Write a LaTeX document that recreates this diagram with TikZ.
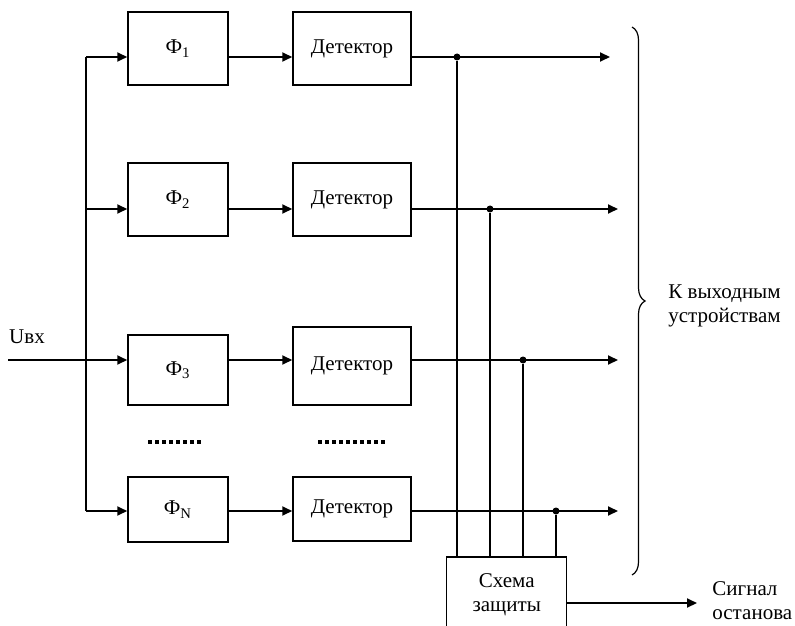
\documentclass[tikz,border=0pt]{standalone}
\usepackage{fontspec}
\setmainfont{Liberation Serif}
\usetikzlibrary{arrows.meta,decorations.pathreplacing}

\begin{document}
\begin{tikzpicture}[x=0.5pt, y=-0.5pt,
    every node/.style = {font=\fontsize{10.5}{12}\selectfont, inner sep=0pt},
    blk/.style = {draw, line width=0.75pt, minimum width=50pt, minimum height=36.5pt},
    detbox/.style = {blk, minimum width=59pt},
    wire/.style = {line width=0.9pt},
    sig/.style = {wire, -{Triangle[length=5pt,width=4.5pt]}},
    junc/.style = {circle, fill, minimum size=3.5pt},
    dots/.style = {line width=2pt, dash pattern=on 2pt off 1.5pt}]
  \useasboundingbox (0,0) rectangle (795,625);

  % filters and detectors
  \node[blk] (f1) at (178,48.5) {Ф\textsubscript{1}};
  \node[blk] (f2) at (178,199.5) {Ф\textsubscript{2}};
  \node[blk, minimum height=35pt] (f3) at (178,370) {Ф\textsubscript{3}};
  \node[blk, minimum height=32.5pt] (fN) at (178,509.5) {Ф\textsubscript{N}};
  \node[detbox] (d1) at (352,48.5) {Детектор};
  \node[detbox] (d2) at (352,199.5) {Детектор};
  \node[detbox, minimum height=39pt] (d3) at (352,366) {Детектор};
  \node[detbox, minimum height=32pt] (dN) at (352,509) {Детектор};
  \draw[dots] (148,442) -- (201,442);
  \draw[dots] (318,442) -- (385,442);

  % input and bus
  \node (uin) at (27,337) {Uвх};
  \coordinate (in) at (8,360);
  \coordinate (s1) at (86,57);
  \coordinate (s2) at (86,209);
  \coordinate (s3) at (86,360);
  \coordinate (sN) at (86,511);
  \draw[wire] (s1) -- (sN);
  \draw[sig] (in) -- (in -| f3.west);
  \foreach \r in {1,2,N}
    \draw[sig] (s\r) -- (s\r -| f\r.west);
  \foreach \r in {1,2,3,N}
    \draw[sig] (s\r -| f\r.east) -- (s\r -| d\r.west);

  % outputs
  \coordinate (o1) at (610,57);
  \coordinate (o2) at (618,209);
  \coordinate (o3) at (618,360);
  \coordinate (oN) at (618,511);
  \foreach \r in {1,2,3,N}
    \draw[sig] (s\r -| d\r.east) -- (o\r);
  \draw[line width=0.6pt, decorate, decoration={brace, amplitude=6.5pt}]
    (632,27) -- (632,575);
  \node[anchor=west, align=left] (outlbl) at (668,306) {К выходным\\устройствам};

  % protection
  \node[blk, minimum width=60pt, minimum height=38pt, align=center] (prot)
    at (506.7,595) {Схема\\защиты};
  \node[junc] (j1) at (457,57) {};
  \node[junc] (j2) at (490,209) {};
  \node[junc] (j3) at (523,360) {};
  \node[junc] (jN) at (556,511) {};
  \foreach \r in {1,2,3,N}
    \draw[wire] (j\r) -- (j\r |- prot.north);
  \coordinate (stop) at (697,603);
  \draw[sig] (prot.east |- stop) -- (stop);
  \node[anchor=west, align=left] (stoplbl) at (712,601) {Сигнал\\останова};
\end{tikzpicture}
\end{document}
